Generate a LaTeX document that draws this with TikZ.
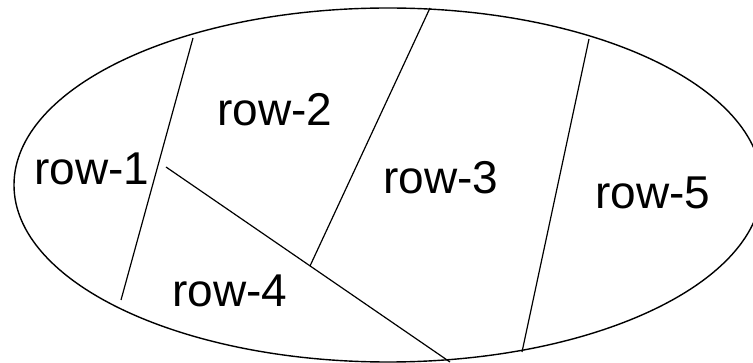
\documentclass[tikz,border=0pt]{standalone}
\usepackage{fontspec}
\setmainfont{Liberation Sans}
\begin{document}
\begin{tikzpicture}[x=1pt,y=-1pt,
    divider/.style={draw=black,line width=1.2pt},
    outline/.style={draw=black,line width=1.4pt},
    rowlabel/.style={anchor=base,inner sep=0pt,font=\fontsize{46}{54}\selectfont}]
  \useasboundingbox (0,0) rectangle (753,363);

  % outer boundary
  \draw[outline] (388,185) ellipse [x radius=374, y radius=177];

  % end points of the dividing lines
  \coordinate (a1) at (193,38);
  \coordinate (a2) at (121,300);
  \coordinate (b1) at (430,8);
  \coordinate (b2) at (310,266);
  \coordinate (c1) at (166,167);
  \coordinate (c2) at (450,362);
  \coordinate (e1) at (589,39);
  \coordinate (e2) at (522,352);

  \draw[divider] (a1) -- (a2);
  \draw[divider] (c1) -- (c2);
  \draw[divider] (b1) -- (b2);
  \draw[divider] (e1) -- (e2);

  % region labels
  \node[rowlabel] (r1) at (92,185) {row-1};
  \node[rowlabel] (r2) at (275,126) {row-2};
  \node[rowlabel] (r3) at (441,194) {row-3};
  \node[rowlabel] (r4) at (230,307) {row-4};
  \node[rowlabel] (r5) at (653,209) {row-5};
\end{tikzpicture}
\end{document}
